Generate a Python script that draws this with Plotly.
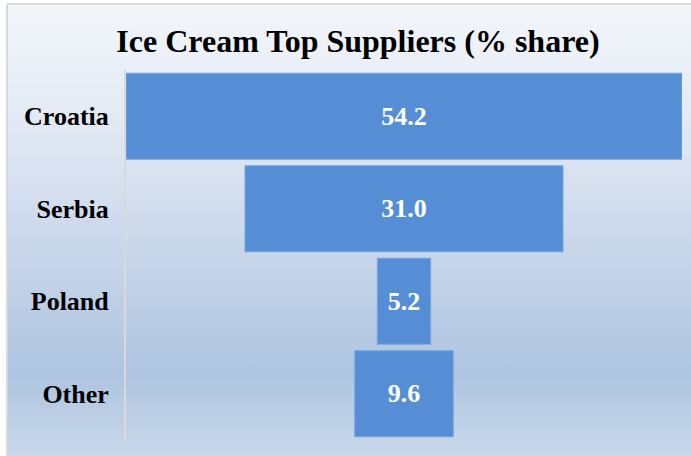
import base64
import plotly.graph_objects as go

# Donnees
suppliers = ["Croatia", "Serbia", "Poland", "Other"]
share = [54.2, 31.0, 5.2, 9.6]
chart_title = "Ice Cream Top Suppliers (% share)"

W, H = 691, 456
L, R, T, B = 126, 9, 70, 16
pw, ph = W - L - R, H - T - B


def px_x(p):
    return (p - L) / pw


def px_y(p):
    return 1 - (p - T) / ph


# fond en degrade (style Excel)
svg = """<svg xmlns="http://www.w3.org/2000/svg" viewBox="0 0 100 100" preserveAspectRatio="none">
<defs><linearGradient id="g" x1="0" y1="0" x2="0" y2="1">
<stop offset="0" stop-color="#F3F6FB"/>
<stop offset="0.25" stop-color="#E3EAF4"/>
<stop offset="0.55" stop-color="#C8D6EA"/>
<stop offset="0.82" stop-color="#AEC4E0"/>
<stop offset="1" stop-color="#C9D8EA"/>
</linearGradient></defs>
<rect x="0" y="0" width="100" height="100" fill="url(#g)"/></svg>"""
bg = "data:image/svg+xml;base64," + base64.b64encode(svg.encode()).decode()

fig = go.Figure(go.Funnel(
    y=suppliers,
    x=share,
    texttemplate="%{x:.1f}",
    textposition="inside",
    textfont=dict(family="Liberation Serif", size=26, color="white", weight="bold"),
    marker=dict(color="#558ED5", line=dict(color="#79A5DE", width=1)),
    connector=dict(visible=False),
    hoverinfo="y+x",
))

fig.add_layout_image(dict(
    source=bg, xref="paper", yref="paper",
    x=px_x(7), y=px_y(4), sizex=(W - 7) / pw, sizey=(H - 4) / ph,
    xanchor="left", yanchor="top", sizing="stretch", layer="below",
))

# cadre gris (haut et gauche)
fig.add_shape(type="line", xref="paper", yref="paper",
              x0=px_x(7), x1=px_x(W), y0=px_y(4), y1=px_y(4),
              line=dict(color="#D9D9D9", width=2))
fig.add_shape(type="line", xref="paper", yref="paper",
              x0=px_x(7), x1=px_x(7), y0=px_y(4), y1=px_y(H),
              line=dict(color="#D9D9D9", width=2))

fig.update_layout(
    width=W, height=H,
    margin=dict(l=L, r=R, t=T, b=B),
    paper_bgcolor="white",
    plot_bgcolor="rgba(0,0,0,0)",
    showlegend=False,
    funnelgap=0.07,
    title=dict(text=chart_title, x=358 / W, xanchor="center",
               y=1 - 41 / H, yanchor="middle",
               font=dict(family="Liberation Serif", size=32, color="black", weight="bold")),
    xaxis=dict(visible=False, range=[-27.1, 27.1]),
    yaxis=dict(showline=True, linecolor="#D9D9D9", linewidth=2,
               showgrid=False, zeroline=False, ticks="",
               ticklabelstandoff=10,
               tickfont=dict(family="Liberation Serif", size=26, color="black", weight="bold")),
)

fig.write_html("out.html", config={"displayModeBar": False},
               post_script="document.body.style.margin='0';")
